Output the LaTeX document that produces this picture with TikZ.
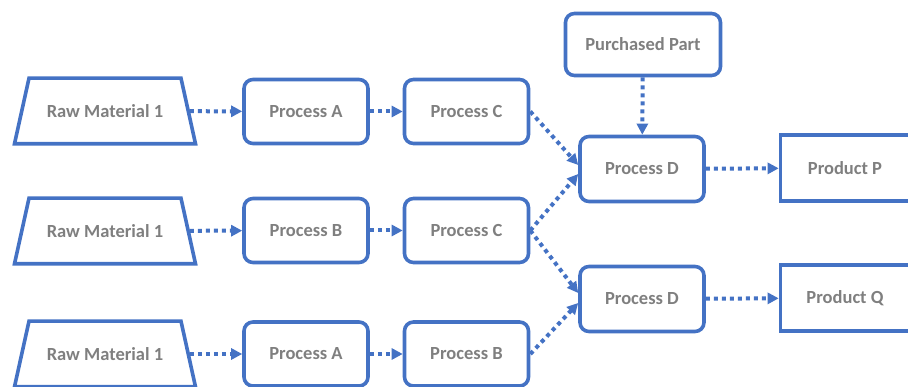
\documentclass[tikz,border=0pt]{standalone}
\usepackage{fontspec}
\setmainfont{Carlito}
\usepackage{xcolor}
\usetikzlibrary{arrows.meta}
\definecolor{flowblue}{HTML}{4472C4}
\definecolor{labelgray}{HTML}{7F7F7F}

\begin{document}
\begin{tikzpicture}[x=1pt,y=-1pt]
				\useasboundingbox (0,0) rectangle (908,387);
				\begin{scope}[every node/.style={draw=flowblue,line width=3.6pt,text=labelgray,
				              font=\fontsize{18.5}{22}\selectfont\bfseries,
				              rounded corners=9pt,minimum width=124pt,minimum height=64pt}]
				    % raw materials (outline drawn below)
				    \node[draw=none,minimum width=166pt,minimum height=62pt]  (R1) at (105,111) {Raw Material 1};
				    \node[draw=none,minimum width=166pt,minimum height=62pt]  (R2) at (105,231) {Raw Material 1};
				    \node[draw=none,minimum width=166pt,minimum height=62pt]  (R3) at (105,354) {Raw Material 1};
				    % processes
				    \node  (A1) at (306,111.5) {Process A};
				    \node  (C1) at (466.5,111.5) {Process C};
				    \node  (B2) at (306,230.5) {Process B};
				    \node  (C2) at (466.5,230.5) {Process C};
				    \node  (A3) at (306,354) {Process A};
				    \node  (B3) at (466.5,354) {Process B};
				    \node[minimum width=155pt,minimum height=62pt]  (PP) at (643,44.5) {Purchased Part};
				    \node[minimum height=65pt]  (D1) at (642,169) {Process D};
				    \node[minimum height=65pt]  (D2) at (642,299) {Process D};
				    % products
				    \node[sharp corners,minimum width=129pt,minimum height=66pt]  (P) at (845,168) {Product P};
				    \node[sharp corners,minimum width=129pt,minimum height=66pt]  (Q) at (845,298) {Product Q};
				\end{scope}

				% trapezoid outlines of the raw materials
				\foreach \r in {R1,R2,R3}
				    \draw[flowblue,line width=3.6pt,line join=miter]
				        ([xshift=-90.5pt]\r.south) -- ([xshift=-76pt]\r.north) -- ([xshift=76pt]\r.north)
				        -- ([xshift=90.5pt]\r.south) -- cycle;

				\begin{scope}[>={Triangle[length=11pt,width=11pt]},
				              every edge/.style={draw=flowblue,line width=4pt,dash pattern=on 4pt off 4pt}]
				    \path [->] (R1) edge (A1);
				    \path [->] (A1) edge (C1);
				    \path [->] (R2) edge (B2);
				    \path [->] (B2) edge (C2);
				    \path [->] (R3) edge (A3);
				    \path [->] (A3) edge (B3);
				    \path [->] (C1.east) edge ([yshift=4pt]D1.west);
				    \path [->] (C2.east) edge ([yshift=-5pt]D1.west);
				    \path [->] (C2.east) edge ([yshift=6pt]D2.west);
				    \path [->] (B3.east) edge ([yshift=-4pt]D2.west);
				    \path [->] (PP) edge (D1);
				    \path [->] (D1) edge (P);
				    \path [->] (D2) edge (Q);
				\end{scope}
\end{tikzpicture}
\end{document}
